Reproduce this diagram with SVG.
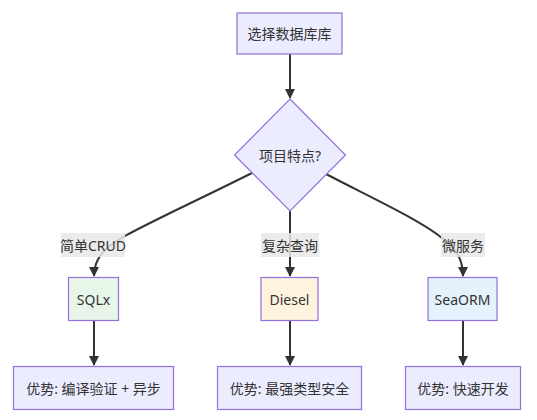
<svg xmlns="http://www.w3.org/2000/svg" width="537" height="420" viewBox="0 0 537 420">
<defs>
<style>
.node{fill:#ECECFF;stroke:#9370DB;stroke-width:1.2}
.t{font-family:"Noto Sans","Noto Sans CJK SC",sans-serif;font-size:14px;fill:#333;text-anchor:middle;dominant-baseline:central}
.e{fill:none;stroke:#333;stroke-width:2}
.lbl{fill:#e8e8e8;opacity:0.85}
</style>
<marker id="arr" viewBox="0 0 10 10" refX="9" refY="5" markerWidth="5" markerHeight="5" orient="auto" markerUnits="strokeWidth">
<path d="M0,0 L10,5 L0,10 z" fill="#333"/>
</marker>
</defs>
<rect width="537" height="420" fill="#ffffff"/>
<g id="connectors">
<path class="e" d="M290,54 L290,98" marker-end="url(#arr)"/>
<path class="e" d="M252,173 C200,199 150,222 125,236 C105,247 94,258 94,276" marker-end="url(#arr)"/>
<path class="e" d="M290,210 L290,276" marker-end="url(#arr)"/>
<path class="e" d="M326,174 C370,197 420,220 442,238 C455,248 463,258 463,276" marker-end="url(#arr)"/>
<path class="e" d="M94,320 L94,365" marker-end="url(#arr)"/>
<path class="e" d="M290,320 L290,365" marker-end="url(#arr)"/>
<path class="e" d="M463,320 L463,365" marker-end="url(#arr)"/>
<rect class="lbl" x="61" y="233" width="64" height="24"/>
<text class="t" x="93" y="245">简单CRUD</text>
<rect class="lbl" x="261" y="233" width="58" height="24"/>
<text class="t" x="290" y="245">复杂查询</text>
<rect class="lbl" x="441" y="233" width="44" height="24"/>
<text class="t" x="463" y="245">微服务</text>
</g>
<g id="start">
<rect class="node" x="237" y="13" width="105" height="41"/>
<text class="t" x="289.5" y="33.5">选择数据库库</text>
</g>
<g id="decision">
<polygon class="node" points="290,99 345.5,155 290,211 234.5,155"/>
<text class="t" x="290" y="155">项目特点?</text>
</g>
<g id="sqlx">
<rect class="node" style="fill:#e8f5e9" x="68.5" y="277.5" width="50" height="43"/>
<text class="t" x="93.5" y="299">SQLx</text>
</g>
<g id="diesel">
<rect class="node" style="fill:#fff3e0" x="261" y="277.5" width="57" height="43"/>
<text class="t" x="289.5" y="299">Diesel</text>
</g>
<g id="seaorm">
<rect class="node" style="fill:#e3f2fd" x="428" y="277.5" width="69" height="43"/>
<text class="t" x="462.5" y="299">SeaORM</text>
</g>
<g id="sqlx-adv">
<rect class="node" x="13.5" y="366.5" width="160" height="43"/>
<text class="t" x="93.5" y="388">优势: 编译验证 + 异步</text>
</g>
<g id="diesel-adv">
<rect class="node" x="217.5" y="366.5" width="144" height="43"/>
<text class="t" x="289.5" y="388">优势: 最强类型安全</text>
</g>
<g id="seaorm-adv">
<rect class="node" x="405.5" y="366.5" width="115" height="43"/>
<text class="t" x="463" y="388">优势: 快速开发</text>
</g>
</svg>
